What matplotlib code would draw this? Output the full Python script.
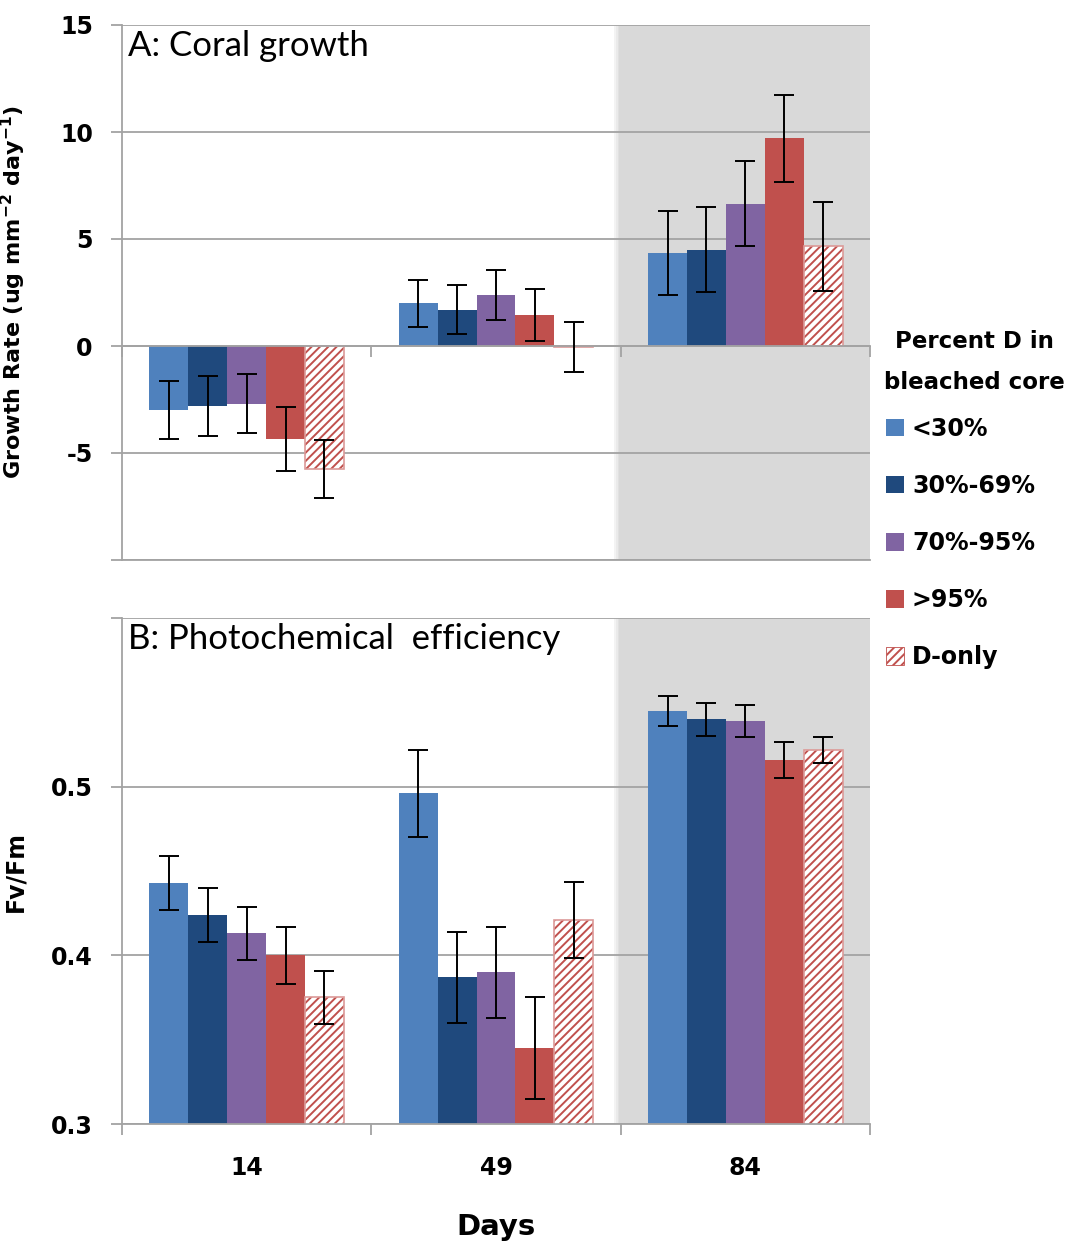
import matplotlib

matplotlib.use("Agg")
import matplotlib.pyplot as plt
import numpy as np
from matplotlib.patches import Patch

# ---- data -----------------------------------------------------------------
days = ["14", "49", "84"]
groups = ["<30%", "30%-69%", "70%-95%", ">95%", "D-only"]

growth = {
    "<30%":    [-3.0, 2.0, 4.35],
    "30%-69%": [-2.8, 1.7, 4.5],
    "70%-95%": [-2.7, 2.4, 6.65],
    ">95%":    [-4.35, 1.45, 9.7],
    "D-only":  [-5.75, -0.05, 4.65],
}
growth_err = {
    "<30%":    [1.35, 1.1, 1.97],
    "30%-69%": [1.4, 1.15, 1.98],
    "70%-95%": [1.37, 1.17, 2.0],
    ">95%":    [1.5, 1.2, 2.03],
    "D-only":  [1.35, 1.15, 2.07],
}
fvfm = {
    "<30%":    [0.443, 0.496, 0.545],
    "30%-69%": [0.424, 0.387, 0.540],
    "70%-95%": [0.413, 0.390, 0.539],
    ">95%":    [0.400, 0.345, 0.516],
    "D-only":  [0.375, 0.421, 0.522],
}
fvfm_err = {
    "<30%":    [0.016, 0.026, 0.009],
    "30%-69%": [0.016, 0.027, 0.0097],
    "70%-95%": [0.0155, 0.027, 0.0097],
    ">95%":    [0.017, 0.030, 0.0106],
    "D-only":  [0.016, 0.0226, 0.0077],
}

colors = {
    "<30%": "#4F81BD",
    "30%-69%": "#1F497D",
    "70%-95%": "#8064A2",
    ">95%": "#C0504D",
    "D-only": "white",
}
RED = "#C0504D"
PINK = "#dc9a98"
GRID = "#a3a3a3"
SHADE = "#d9d9d9"

plt.rcParams["hatch.linewidth"] = 1.4
plt.rcParams["font.family"] = "DejaVu Sans"

fig = plt.figure(figsize=(10.66, 12.43), dpi=100)
W, H = 1066, 1243
axA = fig.add_axes([122 / W, 1 - 560 / H, 748 / W, 535 / H])
axB = fig.add_axes([122 / W, 1 - 1124 / H, 748 / W, 506 / H])

x = np.arange(1, len(days) + 1)
bw = 0.156
offsets = (np.arange(len(groups)) - 2) * bw


def draw(ax, vals, errs):
    # shaded day-84 block with a soft left edge
    ax.axvspan(2.495, 3.5, color=SHADE, lw=0, zorder=0)
    for i, a in enumerate([0.3, 0.55, 0.8]):
        ax.axvspan(2.475 + 0.0067 * i, 2.475 + 0.0067 * (i + 1),
                   color=SHADE, alpha=a, lw=0, zorder=0)
    for g, off in zip(groups, offsets):
        if g == "D-only":
            # hatch takes the edge colour, so draw the pink outline separately
            ax.bar(x + off, vals[g], bw, bottom=0, color="white",
                   edgecolor=RED, hatch="////", linewidth=0, zorder=2)
            ax.bar(x + off, vals[g], bw, bottom=0, fill=False,
                   edgecolor=PINK, linewidth=1.2, zorder=2)
        else:
            ax.bar(x + off, vals[g], bw, bottom=0, color=colors[g],
                   edgecolor="none", zorder=2)
        ax.errorbar(x + off, vals[g], yerr=errs[g], fmt="none",
                    ecolor="black", elinewidth=1.4, capsize=7.5,
                    capthick=1.4, zorder=3)
    ax.set_xlim(0.5, 3.5)
    ax.set_axisbelow(True)
    ax.grid(True, axis="y", color=GRID, linewidth=1.3, zorder=1)
    ax.grid(False, axis="x")
    for s in ["top", "right"]:
        ax.spines[s].set_visible(False)
    for s in ["left", "bottom"]:
        ax.spines[s].set_color(GRID)
        ax.spines[s].set_linewidth(1.3)
    ax.set_xticks([0.5, 1.5, 2.5, 3.5])
    ax.set_xticklabels([])
    ax.tick_params(axis="x", which="major", direction="out", length=8,
                   color=GRID, width=1.3)
    ax.tick_params(axis="y", direction="out", length=8, color=GRID,
                   width=1.3, pad=13)


# ---- panel A --------------------------------------------------------------
draw(axA, growth, growth_err)
axA.set_ylim(-10, 15)
axA.set_yticks([-10, -5, 0, 5, 10, 15])
axA.set_yticklabels(["", "-5", "0", "5", "10", "15"], fontweight="bold",
                    fontsize=17)
axA.axhline(-10, color=GRID, linewidth=1.3, clip_on=False, zorder=1)
axA.spines["bottom"].set_position(("data", 0))
axA.spines["left"].set_bounds(-10, 15)
axA.set_ylabel("Growth Rate (ug mm$^{\\mathbf{-2}}$ day$^{\\mathbf{-1}}$)",
               fontsize=16, fontweight="bold")
axA.yaxis.set_label_coords(-0.126, 0.5)
axA.text(0.008, 0.99, "A: Coral growth", transform=axA.transAxes,
         ha="left", va="top", fontsize=25, family="Lato", zorder=5)

# ---- panel B --------------------------------------------------------------
draw(axB, fvfm, fvfm_err)
axB.set_ylim(0.3, 0.6)
axB.set_yticks([0.3, 0.4, 0.5, 0.6])
axB.set_yticklabels(["0.3", "0.4", "0.5", ""], fontweight="bold", fontsize=17)
axB.set_xticks(x, minor=True)
axB.set_xticklabels(days, minor=True, fontweight="bold", fontsize=17)
axB.tick_params(axis="x", which="minor", length=0, pad=23)
axB.set_ylabel("Fv/Fm", fontsize=17, fontweight="bold")
axB.yaxis.set_label_coords(-0.126, 0.5)
axB.set_xlabel("Days", fontsize=21, fontweight="bold", labelpad=24)
axB.text(0.008, 0.99, "B: Photochemical  efficiency", transform=axB.transAxes,
         ha="left", va="top", fontsize=25, family="Lato", zorder=5)

# ---- legend ---------------------------------------------------------------
handles = []
for g in groups:
    if g == "D-only":
        handles.append(Patch(facecolor="white", edgecolor=RED, hatch="////",
                             linewidth=0.6, label=g))
    else:
        handles.append(Patch(facecolor=colors[g], edgecolor="none", label=g))
fig.legend(handles=handles, loc="upper left",
           bbox_to_anchor=(886 / W, 1 - 417 / H), frameon=False,
           prop={"weight": "bold", "size": 17},
           handlelength=0.75, handleheight=0.75, handletextpad=0.35,
           labelspacing=1.4, borderaxespad=0, borderpad=0)
fig.text(974 / W, 1 - 362 / H, "Percent D in\nbleached core",
         ha="center", va="center", multialignment="center",
         fontsize=16.5, fontweight="bold", linespacing=1.95)

fig.savefig("out.png", dpi=100)
